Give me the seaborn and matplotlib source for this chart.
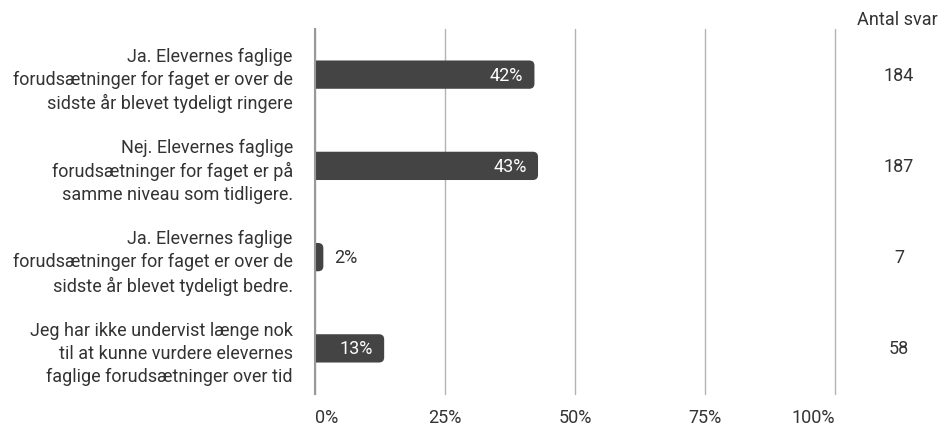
import matplotlib
matplotlib.use("Agg")
import matplotlib.pyplot as plt
import seaborn as sns
import numpy as np
import pandas as pd
from matplotlib.patches import FancyBboxPatch

answers = [
    "Ja. Elevernes faglige\nforudsætninger for faget er over de\nsidste år blevet tydeligt ringere",
    "Nej. Elevernes faglige\nforudsætninger for faget er på\nsamme niveau som tidligere.",
    "Ja. Elevernes faglige\nforudsætninger for faget er over de\nsidste år blevet tydeligt bedre.",
    "Jeg har ikke undervist længe nok\ntil at kunne vurdere elevernes\nfaglige forudsætninger over tid",
]
antal_svar = [184, 187, 7, 58]
pct_text = ["42%", "43%", "2%", "13%"]
x_ticks = [0, 25, 50, 75, 100]
x_ticklabels = ["0%", "25%", "50%", "75%", "100%"]

bar_color = "#444444"
text_color = "#333333"
fs = 13

sns.set_theme(style="white")
plt.rcParams["font.family"] = ["Roboto", "DejaVu Sans"]

share = np.array(antal_svar) / sum(antal_svar) * 100
df = pd.DataFrame({"answer": answers, "share": share})

fig = plt.figure(figsize=(9.44, 4.27), dpi=100)
ax = fig.add_axes([315 / 944, 1 - 395 / 427, 520 / 944, 365 / 427])

sns.barplot(data=df, x="share", y="answer", color=bar_color, width=0.31,
            saturation=1, ax=ax, zorder=3)

# swap the plain bars for ones with a rounded right end
y_per_px = 4 / 365
x_per_px = 100 / 520
for p in list(ax.patches):
    x0, y0 = p.get_x(), p.get_y()
    w, h = p.get_width(), p.get_height()
    p.set_visible(False)
    rb = FancyBboxPatch((x0 - 3, y0), w + 3, h,
                        boxstyle="round,pad=0,rounding_size=1.0",
                        mutation_aspect=y_per_px / x_per_px,
                        fc=bar_color, ec="none", zorder=3, clip_on=True)
    ax.add_patch(rb)

for i, (val, lab) in enumerate(zip(share, pct_text)):
    if val > 6:
        ax.annotate(lab, (val, i), xytext=(-8, 0), textcoords="offset points",
                    ha="right", va="center", color="white", fontsize=fs, zorder=4)
    else:
        ax.annotate(lab, (val, i), xytext=(8, 0), textcoords="offset points",
                    ha="left", va="center", color=text_color, fontsize=fs, zorder=4)

# count column on the right
col_x = (899 - 315) / 520
for i, n in enumerate(antal_svar):
    ax.text(col_x, i, str(n), transform=ax.get_yaxis_transform(),
            ha="center", va="center", fontsize=fs, color=text_color)
fig.text(897 / 944, 1 - 20 / 427, "Antal svar", ha="center", va="center",
         fontsize=fs, color=text_color)

ax.set_xlim(0, 100)
ax.set_ylim(3.5, -0.5)
ax.set_xticks(x_ticks)
ax.set_xticklabels(x_ticklabels)
xt = ax.get_xticklabels()
xt[0].set_ha("left")
xt[-1].set_ha("right")
ax.set_xlabel("")
ax.set_ylabel("")
ax.tick_params(axis="x", length=0, pad=10, labelsize=fs, labelcolor=text_color)
ax.tick_params(axis="y", length=0, pad=16, labelsize=fs, labelcolor=text_color)
for t in ax.get_yticklabels():
    t.set_linespacing(1.35)

ax.grid(axis="x", color="#b3b3b3", linewidth=1, zorder=0)
ax.grid(axis="y", visible=False)
for gl in ax.get_xgridlines():
    gl.set_clip_on(False)
for s in ["top", "right", "bottom"]:
    ax.spines[s].set_visible(False)
ax.spines["left"].set_color("#999999")
ax.spines["left"].set_linewidth(1.5)
ax.spines["left"].set_zorder(5)

fig.savefig("out.png", dpi=100)
